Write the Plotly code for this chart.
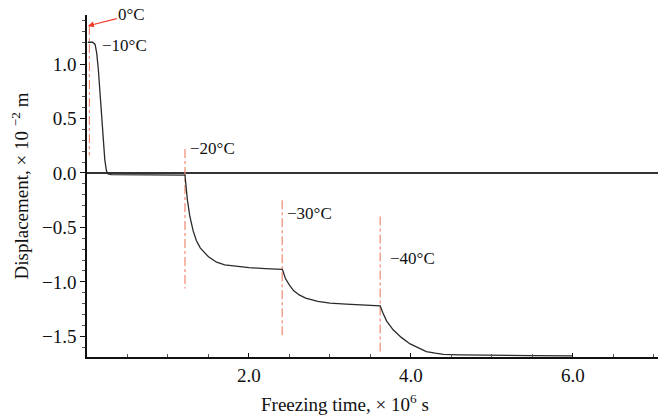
import plotly.graph_objects as go

# Displacement curve (x in 1e6 s, y in 1e-2 m)
time_x = [0.01, 0.07, 0.10, 0.12, 0.14, 0.16, 0.18, 0.20, 0.22, 0.24, 0.26, 0.30,
          0.6, 1.0, 1.21,
          1.22, 1.24, 1.27, 1.31, 1.35, 1.40, 1.50, 1.60, 1.70, 1.80, 2.00, 2.20, 2.41,
          2.42, 2.45, 2.50, 2.55, 2.62, 2.70, 2.85, 3.00, 3.20, 3.40, 3.62,
          3.65, 3.70, 3.78, 3.88, 3.99, 4.10, 4.19, 4.30, 4.40, 4.60, 5.00, 5.50, 6.00]
disp_y = [1.20, 1.20, 1.18, 1.10, 0.95, 0.75, 0.52, 0.30, 0.12, 0.02, -0.01, -0.015,
          -0.018, -0.02, -0.02,
          -0.10, -0.25, -0.40, -0.53, -0.62, -0.69, -0.77, -0.82, -0.845, -0.855, -0.87, -0.878, -0.885,
          -0.90, -0.97, -1.03, -1.08, -1.12, -1.15, -1.18, -1.195, -1.205, -1.215, -1.22,
          -1.28, -1.36, -1.44, -1.51, -1.57, -1.61, -1.64, -1.655, -1.665, -1.67, -1.675, -1.678, -1.68]

# Temperature step markers
step_times = [0.03, 1.21, 2.41, 3.62]
marker_top = [1.35, 0.22, -0.25, -0.40]
marker_bottom = [0.16, -1.06, -1.50, -1.66]
step_labels = ["−10°C", "−20°C", "−30°C", "−40°C"]
label_x = [0.16, 1.25, 2.44, 3.72]
label_y = [1.17, 0.22, -0.37, -0.79]

x_ticks = [2.0, 4.0, 6.0]
y_ticks = [1.0, 0.5, 0.0, -0.5, -1.0, -1.5]

FONT = "Liberation Serif, Times New Roman, serif"
fig = go.Figure()

for t, top, bot in zip(step_times, marker_top, marker_bottom):
    fig.add_trace(go.Scatter(x=[t, t], y=[top, bot], mode="lines",
                             line=dict(color="#ee8a70", width=1.2, dash="dashdot"),
                             showlegend=False, hoverinfo="skip"))

fig.add_trace(go.Scatter(x=time_x, y=disp_y, mode="lines",
                         line=dict(color="#2a2a2a", width=1.3),
                         showlegend=False))

for txt, lx, ly in zip(step_labels, label_x, label_y):
    fig.add_annotation(x=lx, y=ly, text=txt, showarrow=False, xanchor="left",
                       yanchor="middle", font=dict(family=FONT, size=17, color="#111"))

# 0°C label with red arrow
fig.add_annotation(x=step_times[0] - 0.02, y=marker_top[0], text="0°C", showarrow=True,
                   ax=44, ay=-11, arrowhead=2, arrowsize=1, arrowwidth=1.2,
                   arrowcolor="#f03a2a", font=dict(family=FONT, size=17, color="#111"))

fig.update_layout(
    width=658, height=420,
    margin=dict(l=87, r=0, t=15, b=63),
    paper_bgcolor="white", plot_bgcolor="white",
    font=dict(family=FONT, size=18, color="#111"),
    xaxis=dict(range=[0, 7.05], tickvals=x_ticks, ticktext=[f"{v:.1f}" for v in x_ticks],
               showline=True, linecolor="#111", linewidth=1.5, mirror=False,
               ticks="inside", ticklen=4, tickcolor="#111", showgrid=False, zeroline=False,
               minor=dict(dtick=0.5, tick0=0, ticks="inside", ticklen=3, tickcolor="#555"),
               tickfont=dict(family=FONT, size=19)),
    yaxis=dict(range=[-1.69, 1.45], tickvals=y_ticks, ticktext=[f"{v:.1f}".replace("-", "−") for v in y_ticks],
               showline=True, linecolor="#111", linewidth=1.5,
               ticks="outside", ticklen=5, tickcolor="#111", showgrid=False,
               zeroline=True, zerolinecolor="#333", zerolinewidth=1.5,
               minor=dict(dtick=0.1, tick0=0, ticks="outside", ticklen=3, tickcolor="#555"),
               tickfont=dict(family=FONT, size=19),
               title=dict(text="Displacement, × 10 <sup>−2</sup> m", font=dict(family=FONT, size=19),
                          standoff=8)),
)

# x-axis title (offset left of plot centre, as in the reference)
fig.add_annotation(x=(345 - 87) / 571, y=-0.135, xref="paper", yref="paper",
                   text="Freezing time, × 10<sup>6</sup> s", showarrow=False,
                   xanchor="center", yanchor="middle", font=dict(family=FONT, size=19))

fig.write_html("out.html")
